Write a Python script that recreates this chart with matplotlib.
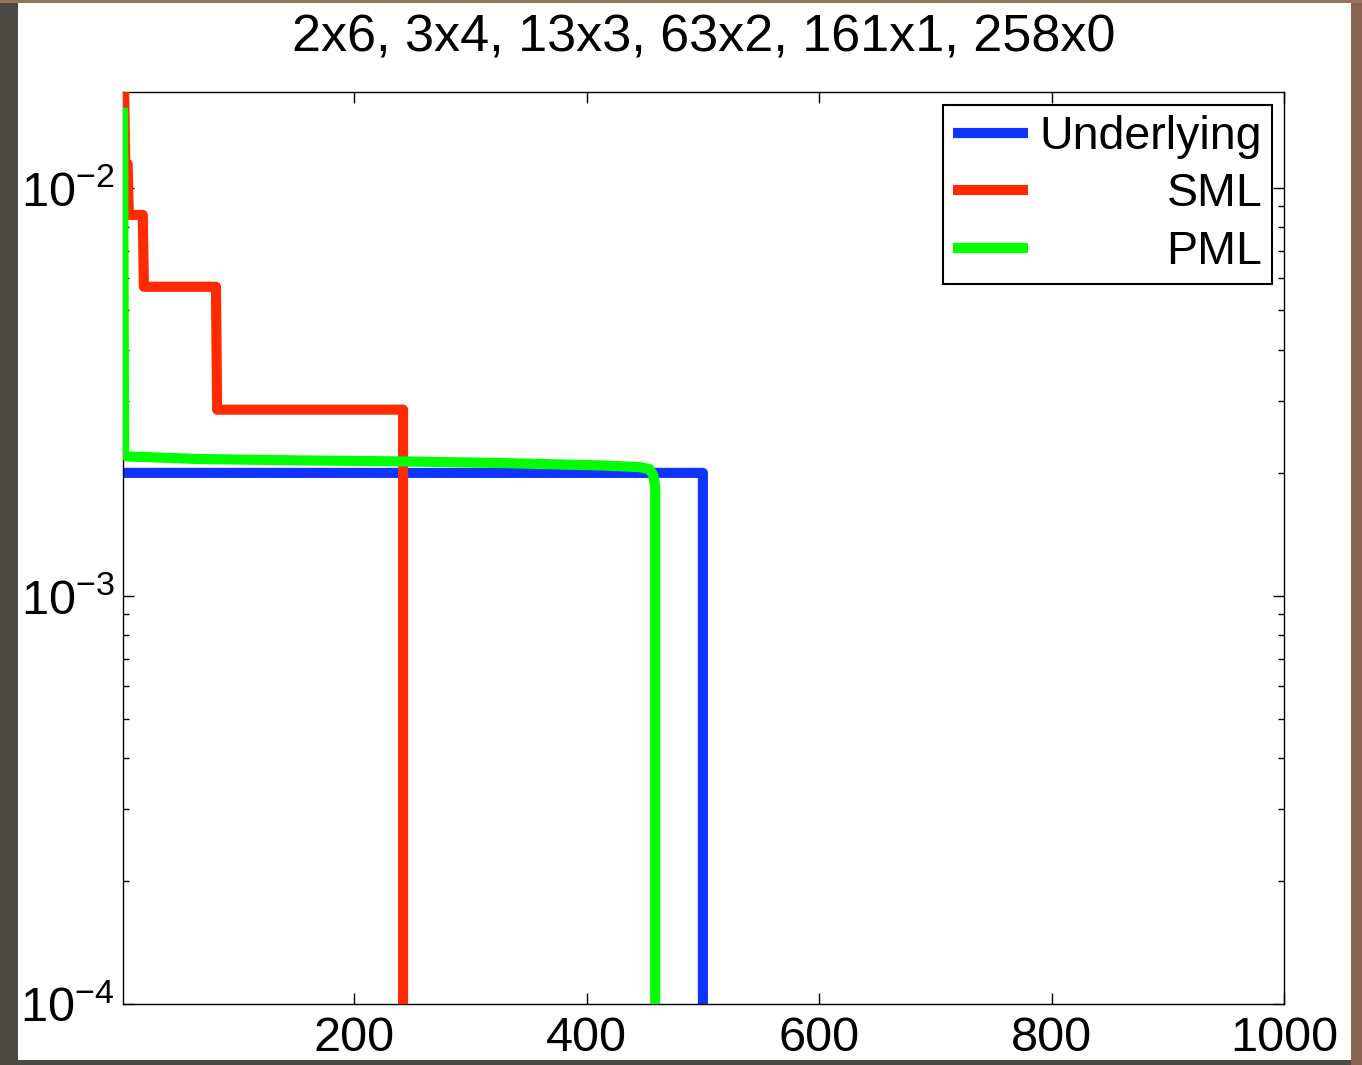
import numpy as np
import matplotlib
matplotlib.use('Agg')
import matplotlib.pyplot as plt
from matplotlib.patches import Rectangle
from matplotlib.ticker import NullLocator, LogLocator

plt.rcParams['font.family'] = ['Liberation Sans', 'DejaVu Sans']
plt.rcParams['mathtext.fontset'] = 'custom'
plt.rcParams['mathtext.rm'] = 'Liberation Sans'
plt.rcParams['mathtext.it'] = 'Liberation Sans:italic'
plt.rcParams['mathtext.bf'] = 'Liberation Sans:bold'

# profile of the sample (title): number of symbols seen k times
num_symbols = [2, 3, 13, 63, 161, 258]
times_seen = [6, 4, 3, 2, 1, 0]
support_size = 500
x_max = 1000

# PML estimate (sorted index, probability)
pml_index = [1, 2, 4, 66, 153, 239, 325, 411, 445, 454, 457, 458, 459, 460, 1000]
pml_prob = [0.0157, 2.22e-3, 2.195e-3, 2.163e-3, 2.146e-3, 2.134e-3, 2.115e-3,
            2.086e-3, 2.067e-3, 2.044e-3, 1.98e-3, 1.92e-3, 1.85e-3, 0, 0]

x_ticks = [200, 400, 600, 800, 1000]

idx = np.arange(1, x_max + 1)
n_samples = sum(a * b for a, b in zip(num_symbols, times_seen))
sml = np.repeat(np.array(times_seen) / n_samples, num_symbols)
sml = np.concatenate([sml, np.zeros(x_max - len(sml))])
underlying = np.where(idx <= support_size, 1.0 / support_size, 0.0)

blue = '#1034ff'
red = '#ff2a00'
green = '#00ff00'

fig = plt.figure(figsize=(13.62, 10.65), dpi=100)
fig.patch.set_facecolor('#4c4a45')
# photo-ish frame around the slide
fig.patches.append(Rectangle((0.9919, 0), 0.0081, 1, transform=fig.transFigure,
                             facecolor='#8a6450', edgecolor='none', zorder=-2))
fig.patches.append(Rectangle((0, 0.997), 1, 0.003, transform=fig.transFigure,
                             facecolor='#9a7260', edgecolor='none', zorder=-2))
fig.patches.append(Rectangle((0.0132, 0.0047), 0.9787, 0.9925, transform=fig.transFigure,
                             facecolor='white', edgecolor='none', zorder=-1))

ax = fig.add_axes([0.0903, 0.0573, 0.8524, 0.8563])
ax.set_yscale('log')

lw = 7.3
style = dict(lw=lw, solid_joinstyle='round', solid_capstyle='butt')
ax.plot(idx, underlying, color=blue, label='Underlying', zorder=2, **style)
ax.plot(idx, sml, color=red, label='SML', zorder=3, **style)
ax.plot(pml_index, pml_prob, color=green, label='PML', zorder=4, **style)

ax.set_xlim(1, x_max)
ax.set_ylim(1e-4, times_seen[0] / n_samples)
ax.set_xticks(x_ticks)
ax.xaxis.set_minor_locator(NullLocator())
ax.yaxis.set_major_locator(LogLocator(base=10, numticks=10))
ax.yaxis.set_minor_locator(LogLocator(base=10, subs=np.arange(2, 10), numticks=10))

for s in ax.spines.values():
    s.set_linewidth(1.0)
ax.tick_params(which='both', direction='in', top=True, right=True, width=1.0)
ax.tick_params(which='major', length=8, labelsize=35)
ax.tick_params(which='minor', length=4.3)
ax.tick_params(axis='x', pad=9)
ax.tick_params(axis='y', pad=6)

ax.set_title('2x6, 3x4, 13x3, 63x2, 161x1, 258x0', fontsize=37.5, pad=29)

leg = ax.legend(loc='upper right', bbox_to_anchor=(0.9897, 0.9857), borderaxespad=0,
                fontsize=33.5, handlelength=1.61, handletextpad=0.25, borderpad=0.21,
                labelspacing=0.29, fancybox=False, edgecolor='black', framealpha=1)
leg.get_frame().set_linewidth(1.5)

# right-align the legend labels (matlab style)
fig.canvas.draw()
widths = [t.get_window_extent().width for t in leg.get_texts()]
for t, w in zip(leg.get_texts(), widths):
    t.set_position((max(widths) - w, 0))

fig.savefig('out.png', dpi=100, facecolor=fig.get_facecolor())
